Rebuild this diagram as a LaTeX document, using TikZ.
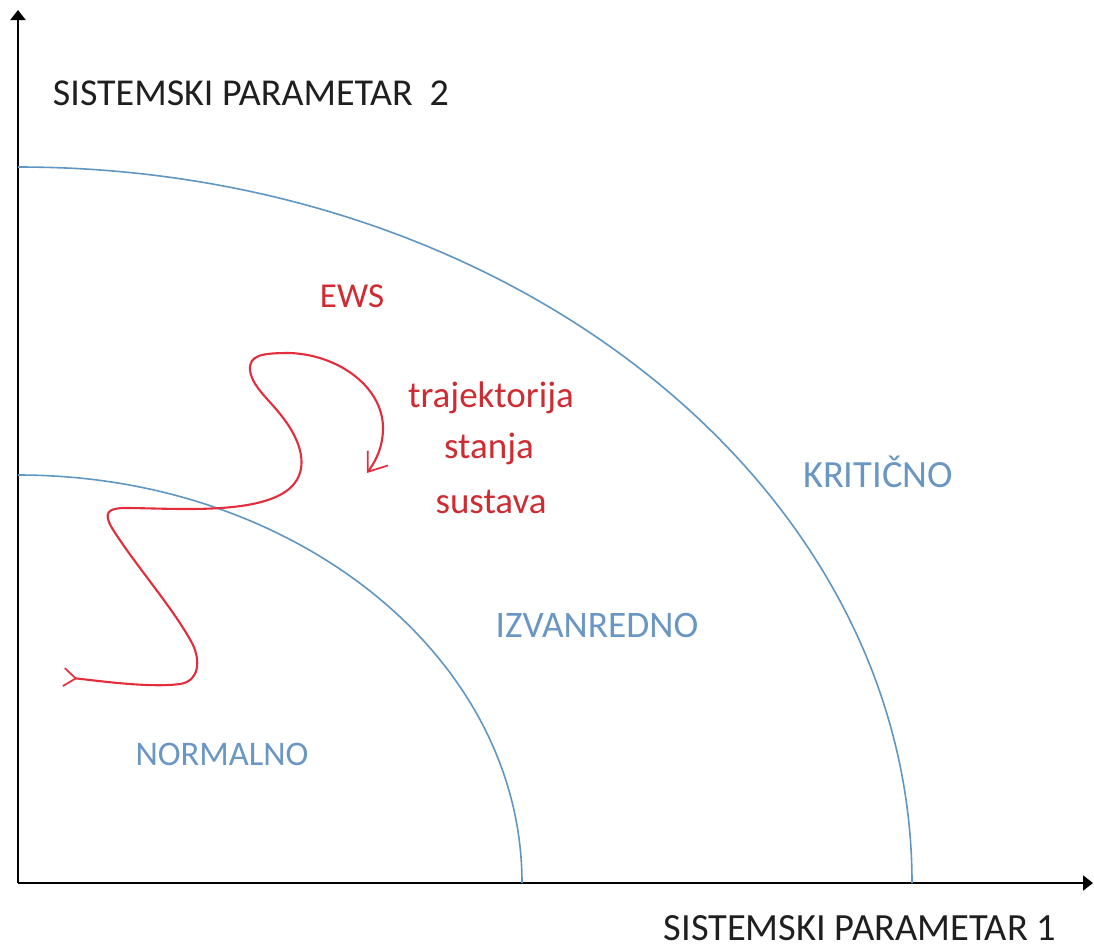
\documentclass[tikz,border=0pt]{standalone}
\usepackage{fontspec}
\setmainfont{Carlito}
\usetikzlibrary{arrows.meta}
\definecolor{arcblue}{RGB}{95,150,195}
\definecolor{lblblue}{RGB}{105,150,195}
\definecolor{curvered}{RGB}{228,45,60}
\definecolor{txtred}{RGB}{205,45,50}
\tikzset{
  axisline/.style={line width=2.2pt, draw=black, -{Triangle[length=10pt,width=15pt]}},
  arcline/.style={line width=1.6pt, draw=arcblue},
  trajline/.style={line width=2.1pt, draw=curvered, line cap=round,
    {Straight Barb[reversed,length=12pt,width=18pt,line width=1.7pt]}-{Straight Barb[length=17pt,width=25pt,line width=1.7pt]}},
  axlabel/.style={inner sep=0pt, anchor=base, text=black!88},
  reglabel/.style={inner sep=0pt, anchor=base, text=lblblue},
  redlabel/.style={inner sep=0pt, anchor=base, text=txtred},
}
\begin{document}
\begin{tikzpicture}[x=1pt,y=-1pt]
\useasboundingbox (0,0) rectangle (1094,951);
\coordinate (O) at (18,883);
\coordinate (Ytop) at (18,10);
\coordinate (Xend) at (1093,883);
\coordinate (inA) at (18,475);
\coordinate (outA) at (18,167);
% axes
\draw[axisline] (O) -- (Ytop);
\draw[axisline] (O) -- (Xend);
% arcs
\draw[arcline] (inA) arc[start angle=-90, end angle=0, x radius=504, y radius=408];
\draw[arcline] (outA) arc[start angle=-90, end angle=0, x radius=894, y radius=716];
% trajectory
\coordinate (cs) at (63,677);
\coordinate (ce) at (367,473);
\draw[trajline] (cs)
 .. controls (100,681) and (150,688) .. (180,684)
 .. controls (200,681) and (200,660) .. (193,645)
 .. controls (175,610) and (135,565) .. (112,528)
 .. controls (103,513) and (108,508) .. (125,508)
 .. controls (170,508) and (250,515) .. (285,492)
 .. controls (306,478) and (305,455) .. (293,433)
 .. controls (278,405) and (252,390) .. (250,370)
 .. controls (249,355) and (262,353) .. (290,353)
 .. controls (340,355) and (383,388) .. (383,428)
 .. controls (383,448) and (375,462) .. (ce);
% labels
\node[axlabel, font=\fontsize{38}{40}\selectfont] (ylab) at (251,105) {SISTEMSKI PARAMETAR\hspace{0.22em} 2};
\node[axlabel, font=\fontsize{38.5}{40}\selectfont] (xlab) at (860,940) {SISTEMSKI PARAMETAR 1};
\node[redlabel, font=\fontsize{35}{37}\selectfont] (ews) at (352,307) {EWS};
\node[redlabel, font=\fontsize{37}{39}\selectfont] (t1) at (491,407) {trajektorija};
\node[redlabel, font=\fontsize{37}{39}\selectfont] (t2) at (489,458) {stanja};
\node[redlabel, font=\fontsize{37}{39}\selectfont] (t3) at (491,513) {sustava};
\node[reglabel, font=\fontsize{38.5}{40}\selectfont] (krit) at (878,487) {KRITIČNO};
\node[reglabel, font=\fontsize{37.4}{40}\selectfont] (izv) at (597,637) {IZVANREDNO};
\node[reglabel, font=\fontsize{34.5}{37}\selectfont] (norm) at (222,765) {NORMALNO};
\end{tikzpicture}
\end{document}
